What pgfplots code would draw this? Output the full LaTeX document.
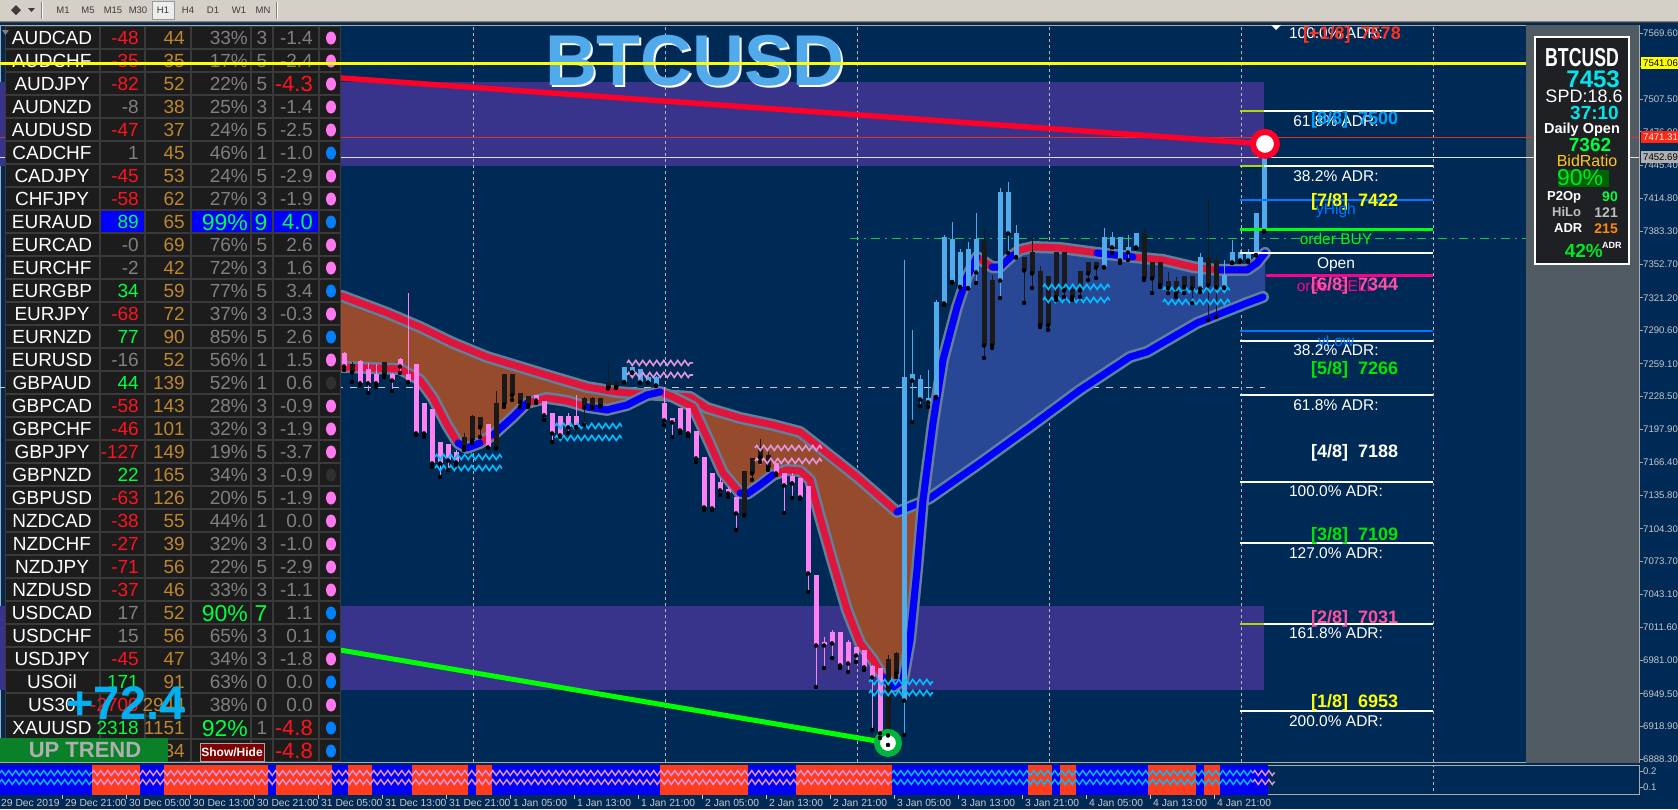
\documentclass[border=0pt]{standalone}
\usepackage{fontspec}
\setmainfont{Liberation Sans}
\usepackage{graphicx}
\usepackage{pgfplots}
\usepackage{pgfplotstable}
\pgfplotsset{compat=1.18}
\usetikzlibrary{decorations.pathmorphing}

\definecolor{navy}{RGB}{0,42,86}
\definecolor{tbgray}{RGB}{212,208,200}
\definecolor{tbtext}{RGB}{60,60,60}
\definecolor{futgray}{RGB}{80,91,99}
\definecolor{zone}{RGB}{56,52,140}
\definecolor{zonelime}{RGB}{170,220,0}
\definecolor{brownf}{RGB}{150,75,45}
\definecolor{bluef}{RGB}{40,72,150}
\definecolor{bandout}{RGB}{96,128,156}
\definecolor{bandred}{RGB}{225,20,60}
\definecolor{bandblue}{RGB}{0,0,255}
\definecolor{cpink}{RGB}{255,128,240}
\definecolor{cblack}{RGB}{26,26,26}
\definecolor{clight}{RGB}{80,170,235}
\definecolor{zzcyan}{RGB}{0,190,255}
\definecolor{zzpink}{RGB}{225,150,220}
\definecolor{trendred}{RGB}{255,0,40}
\definecolor{trendgreen}{RGB}{0,255,0}
\definecolor{circgreen}{RGB}{0,180,60}
\definecolor{axgray}{RGB}{170,170,170}
\definecolor{lblgray}{RGB}{200,200,200}
\definecolor{gridc}{RGB}{185,185,185}
\definecolor{askred}{RGB}{220,50,40}
\definecolor{bidwhite}{RGB}{225,225,225}
\definecolor{dashgreen}{RGB}{30,190,70}
\definecolor{subred}{RGB}{255,60,30}
\definecolor{subblue}{RGB}{0,0,245}
\definecolor{cellbg}{RGB}{28,28,28}
\definecolor{cellline}{RGB}{58,58,58}
\definecolor{tred}{RGB}{255,20,30}
\definecolor{tgray}{RGB}{128,128,128}
\definecolor{tgreen}{RGB}{0,255,64}
\definecolor{torange}{RGB}{190,135,45}
\definecolor{dotpink}{RGB}{255,120,240}
\definecolor{dotblue}{RGB}{0,128,255}
\definecolor{dotdark}{RGB}{48,48,48}
\definecolor{hlblue}{RGB}{0,0,255}
\definecolor{lvlblue}{RGB}{0,120,255}
\definecolor{lvlmag}{RGB}{255,0,140}
\definecolor{murred}{RGB}{255,50,30}
\definecolor{murblue}{RGB}{0,160,255}
\definecolor{murpink}{RGB}{255,80,160}
\definecolor{murgreen}{RGB}{0,230,0}
\definecolor{muryellow}{RGB}{255,255,0}
\definecolor{titleblue}{RGB}{80,170,235}
\definecolor{panelbg}{RGB}{30,32,36}
\definecolor{pcyan}{RGB}{0,230,240}
\definecolor{pyellow}{RGB}{255,200,30}
\definecolor{pgreen}{RGB}{0,230,40}
\definecolor{pdkgreen}{RGB}{0,100,0}
\definecolor{philo}{RGB}{190,190,190}
\definecolor{porange}{RGB}{255,140,0}
\definecolor{bigcyan}{RGB}{0,176,240}
\definecolor{trendbox}{RGB}{10,128,40}
\definecolor{trendtxt}{RGB}{175,175,175}
\definecolor{btnred}{RGB}{128,0,0}
\definecolor{yline}{RGB}{255,255,0}
\definecolor{boxred}{RGB}{255,40,20}
\definecolor{boxgray}{RGB}{175,175,175}

% candles: x o h l c
\pgfplotstableread{
x o h l c
344 7268.4 7270.3 7253.4 7257.1
360 7260.9 7262.8 7239.3 7241.2
368 7253.4 7260.0 7231.8 7241.2
376 7248.7 7259.0 7237.4 7241.2
392 7248.7 7250.6 7233.7 7244.0
400 7263.7 7264.7 7250.6 7257.1
408 7248.7 7325.6 7242.1 7242.1
416 7259.0 7259.0 7192.4 7194.3
424 7222.4 7222.4 7190.5 7194.3
432 7215.9 7215.9 7162.4 7166.1
440 7184.9 7184.9 7153.0 7166.1
448 7183.9 7183.9 7159.6 7168.9
456 7176.4 7178.3 7164.2 7167.1
488 7201.8 7201.8 7180.2 7181.1
536 7229.9 7229.9 7222.4 7225.2
544 7223.4 7223.4 7206.5 7211.2
552 7212.1 7212.1 7185.8 7194.3
560 7209.3 7209.3 7190.5 7192.4
568 7209.3 7213.0 7194.3 7199.9
576 7209.3 7229.9 7199.9 7199.9
664 7222.4 7237.4 7201.8 7206.5
672 7207.4 7207.4 7190.5 7204.6
680 7217.7 7217.7 7194.3 7197.1
688 7217.7 7217.7 7191.5 7194.3
696 7195.2 7195.2 7167.1 7170.8
704 7171.7 7171.7 7122.0 7124.8
712 7156.7 7156.7 7122.0 7123.9
720 7147.4 7152.0 7136.1 7140.8
728 7140.8 7143.6 7134.2 7138.0
736 7134.2 7134.2 7103.3 7119.2
776 7166.1 7166.1 7154.9 7156.7
784 7156.7 7156.7 7119.2 7145.5
792 7153.9 7156.7 7133.3 7147.4
800 7152.0 7152.0 7132.4 7134.2
808 7143.6 7143.6 7045.1 7062.9
816 7060.1 7060.1 6955.9 6995.3
824 6998.1 7002.8 6973.7 6995.3
832 7007.5 7009.4 6983.1 6997.2
840 7006.6 7006.6 6973.7 6976.6
848 6998.1 7000.0 6970.0 6978.4
856 6993.4 6993.4 6979.4 6985.9
864 6990.6 6990.6 6971.9 6974.7
872 6974.7 6976.6 6915.6 6965.3
880 6973.7 6973.7 6908.1 6912.8
}\pinkc

\pgfplotstableread{
x o h l c
352 7251.5 7260.9 7242.1 7258.1
384 7248.7 7260.9 7246.8 7260.0
464 7181.1 7194.3 7178.3 7190.5
472 7187.7 7211.2 7184.9 7209.3
480 7199.9 7209.3 7190.5 7208.4
496 7180.2 7233.7 7180.2 7221.5
504 7221.5 7248.7 7218.7 7248.7
512 7248.7 7248.7 7225.2 7229.9
520 7230.9 7231.8 7218.7 7223.4
528 7228.1 7228.1 7218.7 7220.5
584 7218.7 7228.1 7201.8 7227.1
592 7218.7 7228.1 7217.7 7227.1
600 7219.6 7226.2 7219.6 7226.2
608 7236.5 7260.9 7236.5 7242.1
616 7237.4 7243.1 7236.5 7242.1
744 7117.3 7157.7 7117.3 7157.7
752 7156.7 7170.8 7150.2 7170.8
760 7171.7 7188.6 7167.1 7181.1
768 7162.4 7176.4 7159.6 7173.6
888 6910.9 6985.9 6901.5 6981.3
896 6969.0 6988.8 6965.3 6987.8
984 7373.5 7386.6 7264.7 7276.8
992 7337.8 7342.5 7274.0 7276.8
1024 7359.4 7359.4 7316.3 7347.2
1032 7363.2 7381.9 7330.3 7344.4
1040 7345.4 7351.0 7293.7 7295.6
1048 7340.7 7340.7 7290.9 7295.6
1056 7363.2 7363.2 7319.1 7321.9
1064 7363.2 7363.2 7321.9 7328.5
1072 7328.5 7331.3 7319.1 7321.9
1080 7345.4 7345.4 7321.9 7328.5
1088 7354.7 7354.7 7337.8 7344.4
1096 7354.7 7354.7 7339.7 7350.0
1144 7381.0 7386.6 7337.8 7339.7
1152 7353.8 7353.8 7325.6 7339.7
1160 7353.8 7353.8 7331.3 7333.2
1168 7336.0 7345.4 7325.6 7330.3
1176 7336.0 7340.7 7321.9 7325.6
1184 7340.7 7340.7 7325.6 7331.3
1192 7340.7 7340.7 7316.3 7330.3
1208 7358.5 7412.9 7300.3 7333.2
1216 7356.6 7360.4 7303.1 7331.3
}\blackc

\pgfplotstableread{
x o h l c
624 7242.1 7256.2 7242.1 7255.3
632 7251.5 7256.2 7250.6 7255.3
640 7242.1 7253.4 7241.2 7253.4
648 7242.1 7247.8 7241.2 7246.8
656 7239.3 7247.8 7238.4 7246.8
904 6943.7 7356.6 6910.9 7246.8
912 7244.0 7290.9 7204.6 7248.7
920 7226.2 7248.7 7219.6 7244.9
928 7223.4 7253.4 7218.7 7227.1
936 7228.1 7319.1 7228.1 7316.3
944 7316.3 7380.1 7314.4 7377.3
952 7336.0 7392.3 7336.0 7375.4
960 7331.3 7366.9 7331.3 7363.2
968 7330.3 7373.5 7330.3 7366.0
976 7345.4 7400.7 7335.0 7375.4
1000 7337.8 7424.2 7320.9 7419.5
1008 7381.9 7429.8 7363.2 7419.5
1016 7359.4 7389.5 7359.4 7381.9
1104 7350.0 7386.6 7350.0 7377.3
1112 7368.8 7382.9 7363.2 7377.3
1120 7356.6 7377.3 7353.8 7377.3
1128 7364.1 7380.1 7356.6 7368.8
1136 7368.8 7381.0 7367.9 7381.0
1200 7330.3 7363.2 7326.6 7358.5
1224 7331.3 7356.6 7330.3 7342.5
1232 7354.7 7375.4 7353.8 7363.2
1240 7356.6 7366.0 7354.7 7363.2
1248 7356.6 7366.9 7354.7 7363.2
1256 7361.3 7400.7 7361.3 7400.7
1264 7383.8 7463.6 7383.8 7453.3
}\lightc

\pgfplotstableread{
x y
320 7325.6
342 7322.8
387 7306.9
420 7293.7
453 7278.7
487 7265.6
520 7256.2
553 7246.8
587 7237.4
617 7232.7
640 7231.0
690 7228.1
707 7217.7
740 7208.4
773 7201.8
800 7195.2
823 7178.3
857 7153.0
880 7134.2
897 7120.1
917 7127.7
930 7133.3
980 7166.1
1030 7199.9
1080 7234.6
1130 7265.6
1147 7270.3
1197 7297.5
1247 7316.3
1263 7321.9
}\slowband

\pgfplotstableread{
x y
320 7256.2
342 7256.2
400 7254.3
420 7244.0
433 7227.1
447 7201.8
458 7184.9
467 7180.2
480 7184.9
493 7192.4
513 7209.3
527 7222.4
547 7227.1
567 7224.3
587 7218.7
607 7215.9
627 7220.5
647 7229.9
660 7232.7
673 7228.1
693 7218.7
707 7190.5
723 7156.7
740 7138.0
747 7137.0
760 7145.5
773 7154.9
787 7159.6
800 7158.6
810 7150.2
820 7115.4
833 7072.3
847 7028.2
860 6997.2
873 6981.3
883 6965.3
893 6955.9
903 6962.5
910 7000.0
917 7065.7
923 7131.4
933 7203.7
943 7262.8
957 7312.5
967 7340.7
977 7359.4
992 7350.0
1000 7350.0
1013 7361.3
1020 7366.0
1033 7368.8
1060 7367.9
1097 7363.2
1133 7359.4
1163 7356.6
1193 7350.0
1217 7347.2
1247 7347.2
1257 7353.8
1265 7363.2
}\fastband

\pgfplotsset{
 wick/.style={only marks, mark=none, error bars/y dir=plus, error bars/y explicit, error bars/error mark=none, error bars/error bar style={draw=#1, line width=1pt}},
 body/.style={only marks, mark=none, error bars/y dir=plus, error bars/y explicit, error bars/error mark=none, error bars/error bar style={draw=#1, line width=5pt}},
 zz/.style={#1, line width=1.6pt, decorate, decoration={zigzag, segment length=7pt, amplitude=2.5pt}},
}

\newcommand{\TX}[5][]{\node[inner sep=0pt, anchor=base, #1] at (#2, {#3+0.358*#4}) {\fontsize{#4}{#4}\selectfont #5};}
\newcommand{\trow}[9]{%
 \pgfmathsetmacro{\yc}{38+23*#1}%
 \TX{52}{\yc}{19}{\color{white}#2}%
 \TX[anchor=base east]{139}{\yc}{19}{\color{#3}#4}%
 \TX[anchor=base east]{185}{\yc}{19}{\color{torange}#5}%
 \TX[anchor=base east]{248}{\yc}{19}{\color{tgray}#6}%
 \TX{262}{\yc}{19}{\color{tgray}#7}%
 \TX[anchor=base east]{313}{\yc}{19}{\color{tgray}#8}%
 \fill[#9] (331,\yc) ellipse [x radius=5pt, y radius=6.5pt];%
}

\begin{document}
\begin{tikzpicture}
\useasboundingbox (0pt,0pt) rectangle (1678pt,-809pt);
\clip (0pt,0pt) rectangle (1678pt,-809pt);
\fill[navy] (0pt,0pt) rectangle (1678pt,-809pt);

% ================= MAIN PRICE WINDOW =================
\begin{axis}[
 at={(0pt,-762pt)}, anchor=south west, scale only axis,
 width=1639pt, height=737pt,
 xmin=0, xmax=1639, ymin=6885.5, ymax=7577.1,
 axis line style={draw=axgray, line width=1pt},
 xtick=\empty,
 ytick={6888.3,6918.9,6949.5,6981,7011.6,7043.1,7073.7,7104.3,7135.8,7166.4,7197.9,7228.5,7259.1,7290.6,7321.2,7352.7,7383.3,7414.8,7445.4,7476.9,7507.5,7538.1,7569.6},
 yticklabels={6888.30,6918.90,6949.50,6981.00,7011.60,7043.10,7073.70,7104.30,7135.80,7166.40,7197.90,7228.50,7259.10,7290.60,7321.20,7352.70,7383.30,7414.80,7445.40,7476.90,7507.50,7538.10,7569.60},
 ytick pos=right, yticklabel pos=right,
 tick align=outside, major tick length=3.5pt,
 tick style={draw=axgray, line width=0.8pt},
 yticklabel style={font=\fontsize{9.6}{9.6}\selectfont, text=lblgray, inner sep=0pt, xshift=0.5pt},
]
% future (shift) area
\addplot[fill=futgray, draw=none] coordinates {(1526,6880)(1526,7580)(1639,7580)(1639,6880)} -- cycle;
% supply / demand zones
\addplot[fill=zone, draw=none] coordinates {(0,7444.8)(0,7523.7)(1264,7523.7)(1264,7444.8)} -- cycle;
\addplot[fill=zone, draw=none] coordinates {(0,6953.1)(0,7031.9)(1264,7031.9)(1264,6953.1)} -- cycle;
% vertical dashed grid
\pgfplotsinvokeforeach{473,665,857,1049,1241,1433}{
 \addplot[gridc, dash pattern=on 3pt off 3pt, line width=0.8pt] coordinates {(#1,6880)(#1,7580)};
}
% horizontal lines
\addplot[lblgray, dash pattern=on 7pt off 7pt, line width=1pt] coordinates {(0,7237.4)(1265,7237.4)};
\addplot[dashgreen, dash pattern=on 9pt off 5pt on 2pt off 5pt, line width=1pt] coordinates {(850,7376.3)(1526,7376.3)};
\addplot[askred, line width=1pt] coordinates {(0,7471.31)(1639,7471.31)};
\addplot[bidwhite, line width=1pt] coordinates {(0,7452.69)(1639,7452.69)};
% fills between the two averages
\addplot[fill=brownf, draw=none] coordinates {(320,7325.6)(342,7322.8)(387,7306.9)(420,7293.7)(453,7278.7)(487,7265.6)(520,7256.2)(553,7246.8)(587,7237.4)(617,7232.7)(640,7231.0)(690,7228.1)(707,7217.7)(740,7208.4)(773,7201.8)(800,7195.2)(823,7178.3)(857,7153.0)(880,7134.2)(897,7120.1)(917,7127.7)(922,7128.5)(917,7065.7)(910,7000.0)(903,6962.5)(893,6955.9)(883,6965.3)(873,6981.3)(860,6997.2)(847,7028.2)(833,7072.3)(820,7115.4)(810,7150.2)(800,7158.6)(787,7159.6)(773,7154.9)(760,7145.5)(747,7137.0)(740,7138.0)(723,7156.7)(707,7190.5)(693,7218.7)(673,7228.1)(660,7232.7)(647,7229.9)(627,7220.5)(607,7215.9)(587,7218.7)(567,7224.3)(547,7227.1)(527,7222.4)(513,7209.3)(493,7192.4)(480,7184.9)(467,7180.2)(458,7184.9)(447,7201.8)(433,7227.1)(420,7244.0)(400,7254.3)(342,7256.2)(320,7256.2)} -- cycle;
\addplot[fill=bluef, draw=none] coordinates {(922,7128.5)(923,7131.4)(933,7203.7)(943,7262.8)(957,7312.5)(967,7340.7)(977,7359.4)(992,7350.0)(1000,7350.0)(1013,7361.3)(1020,7366.0)(1033,7368.8)(1060,7367.9)(1097,7363.2)(1133,7359.4)(1163,7356.6)(1193,7350.0)(1217,7347.2)(1247,7347.2)(1257,7353.8)(1265,7363.2)(1265,7321.9)(1263,7321.9)(1247,7316.3)(1197,7297.5)(1147,7270.3)(1130,7265.6)(1080,7234.6)(1030,7199.9)(980,7166.1)(930,7133.3)} -- cycle;
% slow average band
\addplot[bandout, line width=12pt, line join=round, line cap=round] table {\slowband};
\addplot[bandred, line width=7pt, line join=round, line cap=round, restrict x to domain=320:897] table {\slowband};
\addplot[bandblue, line width=7pt, line join=round, line cap=round, restrict x to domain=897:1263] table {\slowband};
% fast average band
\addplot[bandout, line width=12pt, line join=round, line cap=round] table {\fastband};
\addplot[bandred, line width=7pt, line join=round, line cap=round] table {\fastband};
\pgfplotsinvokeforeach{458:480, 493:527, 587:660, 740:773, 883:977, 992:1013, 1097:1133, 1217:1265}{
 \addplot[bandblue, line width=7pt, line join=round, line cap=round, restrict x to domain=#1] table {\fastband};
}
% trend lines
\addplot[trendred, line width=5.5pt] coordinates {(341,7527.4)(1265,7465.5)};
\addplot[trendgreen, line width=5pt] coordinates {(340,6990.6)(888,6903.4)};
\addplot[only marks, mark=*, mark size=12pt, mark options={draw=trendred, fill=white, line width=6pt}] coordinates {(1265,7465.5)};
\addplot[only marks, mark=*, mark size=11pt, mark options={draw=circgreen, fill=white, line width=6pt}] coordinates {(888,6903.4)};
% candles
\addplot[wick=cpink] table[x=x, y=l, y error plus expr={\thisrow{h}-\thisrow{l}}] {\pinkc};
\addplot[body=cpink] table[x=x, y expr={min(\thisrow{o},\thisrow{c})-0.45}, y error plus expr={abs(\thisrow{c}-\thisrow{o})+0.9}] {\pinkc};
\addplot[wick=cblack] table[x=x, y=l, y error plus expr={\thisrow{h}-\thisrow{l}}] {\blackc};
\addplot[body=cblack] table[x=x, y expr={min(\thisrow{o},\thisrow{c})-0.45}, y error plus expr={abs(\thisrow{c}-\thisrow{o})+0.9}] {\blackc};
\addplot[wick=clight] table[x=x, y=l, y error plus expr={\thisrow{h}-\thisrow{l}}] {\lightc};
\addplot[body=clight] table[x=x, y expr={min(\thisrow{o},\thisrow{c})-0.45}, y error plus expr={abs(\thisrow{c}-\thisrow{o})+0.9}] {\lightc};
% zigzag signal markers
\addplot[zz=zzcyan] coordinates {(435,7171.7)(502,7171.7)};
\addplot[zz=zzcyan] coordinates {(435,7161.4)(502,7161.4)};
\addplot[zz=zzcyan] coordinates {(555,7200.8)(622,7200.8)};
\addplot[zz=zzcyan] coordinates {(555,7189.6)(622,7189.6)};
\addplot[zz=zzpink] coordinates {(627,7260.0)(693,7260.0)};
\addplot[zz=zzpink] coordinates {(627,7248.7)(693,7248.7)};
\addplot[zz=zzpink] coordinates {(755,7180.2)(822,7180.2)};
\addplot[zz=zzpink] coordinates {(755,7168.0)(822,7168.0)};
\addplot[zz=zzcyan] coordinates {(869,6960.6)(933,6960.6)};
\addplot[zz=zzcyan] coordinates {(869,6950.3)(933,6950.3)};
\addplot[zz=zzcyan] coordinates {(1043,7331.3)(1110,7331.3)};
\addplot[zz=zzcyan] coordinates {(1043,7319.1)(1110,7319.1)};
\addplot[zz=zzcyan] coordinates {(1163,7328.5)(1230,7328.5)};
\addplot[zz=zzcyan] coordinates {(1163,7317.2)(1230,7317.2)};
% level lines on the right
\pgfplotsinvokeforeach{7363.2,7280.6,7229.9,7148.3,7091.1,7015.0,6933.4}{
 \addplot[white, line width=2pt] coordinates {(1240,#1)(1433,#1)};
}
\addplot[white, line width=2pt] coordinates {(1264,7496.4)(1433,7496.4)};
\addplot[white, line width=2pt] coordinates {(1264,7444.8)(1433,7444.8)};
\addplot[zonelime, line width=2pt] coordinates {(1240,7496.4)(1264,7496.4)};
\addplot[zonelime, line width=2pt] coordinates {(1240,7444.8)(1264,7444.8)};
\addplot[zonelime, line width=2pt] coordinates {(1240,7015.0)(1264,7015.0)};
\addplot[lvlblue, line width=2pt] coordinates {(1240,7412.9)(1433,7412.9)};
\addplot[lvlblue, line width=2pt] coordinates {(1240,7290.0)(1433,7290.0)};
\addplot[trendgreen, line width=3pt] coordinates {(1240,7384.8)(1433,7384.8)};
\addplot[lvlmag, line width=3pt] coordinates {(1266,7341.6)(1433,7341.6)};
\end{axis}

% ================= INDICATOR SUB-WINDOW =================
\begin{axis}[
 at={(0pt,-794pt)}, anchor=south west, scale only axis,
 width=1639pt, height=29pt,
 xmin=0, xmax=1639, ymin=0.05625, ymax=0.2375,
 axis line style={draw=axgray, line width=1pt},
 xtick=\empty, ytick={0.1,0.2}, yticklabels={0.1,0.2},
 ytick pos=right, yticklabel pos=right,
 tick align=outside, major tick length=3.5pt,
 tick style={draw=axgray, line width=0.8pt},
 yticklabel style={font=\fontsize{9.6}{9.6}\selectfont, text=lblgray, inner sep=0pt, xshift=0.5pt},
]
\pgfplotsinvokeforeach{473,665,857,1049,1241,1433}{
 \addplot[gridc, dash pattern=on 3pt off 3pt, line width=0.8pt] coordinates {(#1,0)(#1,1)};
}
\addplot[fill=subblue, draw=none] coordinates {(0,0)(0,1)(1268,1)(1268,0)} -- cycle;
\addplot[fill=subred, draw=none] coordinates {(92,0)(92,1)(140,1)(140,0)} -- cycle;
\addplot[fill=subred, draw=none] coordinates {(164,0)(164,1)(268,1)(268,0)} -- cycle;
\addplot[fill=subred, draw=none] coordinates {(276,0)(276,1)(332,1)(332,0)} -- cycle;
\addplot[fill=subred, draw=none] coordinates {(348,0)(348,1)(372,1)(372,0)} -- cycle;
\addplot[fill=subred, draw=none] coordinates {(412,0)(412,1)(468,1)(468,0)} -- cycle;
\addplot[fill=subred, draw=none] coordinates {(476,0)(476,1)(492,1)(492,0)} -- cycle;
\addplot[fill=subred, draw=none] coordinates {(660,0)(660,1)(748,1)(748,0)} -- cycle;
\addplot[fill=subred, draw=none] coordinates {(796,0)(796,1)(892,1)(892,0)} -- cycle;
\addplot[fill=subred, draw=none] coordinates {(1028,0)(1028,1)(1052,1)(1052,0)} -- cycle;
\addplot[fill=subred, draw=none] coordinates {(1060,0)(1060,1)(1076,1)(1076,0)} -- cycle;
\addplot[fill=subred, draw=none] coordinates {(1148,0)(1148,1)(1196,1)(1196,0)} -- cycle;
\addplot[fill=subred, draw=none] coordinates {(1204,0)(1204,1)(1220,1)(1220,0)} -- cycle;
\addplot[zz=zzcyan, line width=1.4pt] coordinates {(0,0.1875)(92,0.1875)};
\addplot[zz=zzcyan, line width=1.4pt] coordinates {(0,0.1313)(92,0.1313)};
\addplot[zz=zzpink, line width=1.4pt] coordinates {(92,0.1875)(892,0.1875)};
\addplot[zz=zzpink, line width=1.4pt] coordinates {(92,0.1313)(892,0.1313)};
\addplot[zz=zzcyan, line width=1.4pt] coordinates {(892,0.1875)(1253,0.1875)};
\addplot[zz=zzcyan, line width=1.4pt] coordinates {(892,0.1313)(1253,0.1313)};
\addplot[zz=zzpink, line width=1.4pt] coordinates {(1253,0.1875)(1275,0.1875)};
\addplot[zz=zzpink, line width=1.4pt] coordinates {(1253,0.1313)(1275,0.1313)};
\end{axis}

% ================= OVERLAYS =================
\begin{scope}[x=1pt,y=-1pt]
% toolbar
\fill[tbgray] (0,0) rectangle (1678,21);
\draw[gray] (0,21.5) -- (1678,21.5);
\draw[black!75] (0,22.5) -- (1678,22.5);
\fill[white!93!black] (152,1) rectangle (174,19);
\draw[gray!80] (152,1) rectangle (174,19);
\foreach \xx/\lab in {63/M1,88/M5,113/M15,138/M30,163/H1,188/H4,213/D1,239/W1,263/MN}{
 \TX{\xx}{10}{9.5}{\color{tbtext}\lab}
}
\fill[tbtext] (16,5) -- (21,10) -- (16,15) -- (11,10) -- cycle;
\fill[tbtext] (28,8) -- (35,8) -- (31.5,12) -- cycle;
\draw[gray] (41,2) -- (41,19); \draw[white] (42,2) -- (42,19);
\draw[gray] (276,2) -- (276,19); \draw[white] (277,2) -- (277,19);

% title
\TX{697}{62}{72}{\bfseries\color{white}BTCUSD}
\TX{695}{60}{72}{\bfseries\color{titleblue}BTCUSD}
\fill[white] (1271,25) -- (1281,25) -- (1276,30) -- cycle;

% level labels
\TX{1336}{33}{15.5}{\color{white}100.0\% ADR:}
\TX[anchor=base west]{1303}{33}{18}{\bfseries\color{murred}[+1/8]\ \ 7578}
\TX{1336}{121}{15.5}{\color{white}61.8\% ADR:}
\TX[anchor=base west]{1311}{118}{18}{\bfseries\color{murblue}[8/8]\ \ 7500}
\TX{1336}{176}{15.5}{\color{white}38.2\% ADR:}
\TX[anchor=base west]{1311}{200}{18}{\bfseries\color{muryellow}[7/8]\ \ 7422}
\TX{1336}{209}{15.5}{\color{lvlblue}yHigh}
\TX{1336}{239}{15.5}{\color{trendgreen}order BUY}
\TX{1336}{263}{15.5}{\color{white}Open}
\TX{1336}{286}{15.5}{\color{lvlmag}order SELL}
\TX[anchor=base west]{1311}{284}{18}{\bfseries\color{murpink}[6/8]\ \ 7344}
\TX{1336}{341}{15.5}{\color{lvlblue}yLow}
\TX{1336}{350}{15.5}{\color{white}38.2\% ADR:}
\TX[anchor=base west]{1311}{368}{18}{\bfseries\color{murgreen}[5/8]\ \ 7266}
\TX{1336}{405}{15.5}{\color{white}61.8\% ADR:}
\TX[anchor=base west]{1311}{451}{18}{\bfseries\color{white}[4/8]\ \ 7188}
\TX{1336}{491}{15.5}{\color{white}100.0\% ADR:}
\TX[anchor=base west]{1311}{534}{18}{\bfseries\color{murgreen}[3/8]\ \ 7109}
\TX{1336}{553}{15.5}{\color{white}127.0\% ADR:}
\TX[anchor=base west]{1311}{617}{18}{\bfseries\color{murpink}[2/8]\ \ 7031}
\TX{1336}{633}{15.5}{\color{white}161.8\% ADR:}
\TX[anchor=base west]{1311}{701}{18}{\bfseries\color{muryellow}[1/8]\ \ 6953}
\TX{1336}{721}{15.5}{\color{white}200.0\% ADR:}

% info panel
\fill[panelbg] (1535,37) rectangle (1629,264);
\draw[white, line width=1.5pt] (1535,37) rectangle (1629,264);
\TX{1582}{57}{26}{\bfseries\color{white}\scalebox{0.68}[1]{BTCUSD}}
\TX[anchor=base east]{1620}{79}{24}{\bfseries\color{pcyan}7453}
\TX{1584}{96}{18}{\color{white}SPD:18.6}
\TX[anchor=base east]{1619}{113}{19}{\bfseries\color{pcyan}37:10}
\TX{1582}{128}{14.5}{\bfseries\color{white}Daily Open}
\TX{1590}{145}{19}{\bfseries\color{tgreen}7362}
\TX{1587}{161}{16}{\color{pyellow}BidRatio}
\fill[pdkgreen] (1558,170) rectangle (1609,187);
\TX{1580}{177}{23}{\color{pgreen}90\%}
\TX[anchor=base west]{1547}{196}{13}{\bfseries\color{white}P2Op}
\TX[anchor=base east]{1618}{196}{14}{\bfseries\color{tgreen}90}
\TX[anchor=base west]{1552}{212}{13}{\bfseries\color{philo}HiLo}
\TX[anchor=base east]{1618}{212}{14}{\bfseries\color{philo}121}
\TX[anchor=base west]{1554}{228}{13}{\bfseries\color{white}ADR}
\TX[anchor=base east]{1618}{228}{14}{\bfseries\color{porange}215}
\TX[anchor=base east]{1603}{251}{19}{\bfseries\color{pgreen}42\%}
\TX[anchor=base west]{1602}{245}{9}{\bfseries\color{white}ADR}

% price-axis boxes
\fill[yline] (1641,57) rectangle (1678,69);
\TX[anchor=base west]{1643}{63}{9.6}{\color{black}7541.06}
\fill[boxred] (1641,131) rectangle (1678,143);
\TX[anchor=base west]{1643}{137}{9.6}{\color{white}7471.31}
\fill[boxgray] (1641,151) rectangle (1678,163);
\TX[anchor=base west]{1643}{157}{9.6}{\color{black}7452.69}

% date labels
\foreach \j/\lab in {0/29 Dec 2019,1/29 Dec 21:00,2/30 Dec 05:00,3/30 Dec 13:00,4/30 Dec 21:00,5/31 Dec 05:00,6/31 Dec 13:00,7/31 Dec 21:00,8/1 Jan 05:00,9/1 Jan 13:00,10/1 Jan 21:00,11/2 Jan 05:00,12/2 Jan 13:00,13/2 Jan 21:00,14/3 Jan 05:00,15/3 Jan 13:00,16/3 Jan 21:00,17/4 Jan 05:00,18/4 Jan 13:00,19/4 Jan 21:00}{
 \pgfmathsetmacro{\xt}{-2+64*\j}
 \draw[lblgray] (\xt,795) -- (\xt,799);
 \TX[anchor=base west]{\xt+3}{803}{10.3}{\color{lblgray}\lab}
}

% ---------- currency table ----------
\fill[cellline] (5,26) rectangle (341,762);
\foreach \i in {0,...,31}{
 \pgfmathsetmacro{\ya}{27+23*\i}
 \pgfmathsetmacro{\yb}{\ya+21}
 \foreach \xa/\xb in {6/99,101/144,146/190,192/250,252/272,274/318,320/340}{
  \fill[cellbg] (\xa,\ya) rectangle (\xb,\yb);
 }
}
\fill[hlblue] (101,211) rectangle (144,232);
\fill[hlblue] (192,211) rectangle (250,232);
\fill[hlblue] (252,211) rectangle (272,232);
\fill[hlblue] (274,211) rectangle (318,232);
\fill[gray] (2,30) -- (9,30) -- (5.5,35) -- cycle;

\trow{0}{AUDCAD}{tred}{-48}{44}{33\%}{3}{-1.4}{dotpink}
\trow{1}{AUDCHF}{tred}{-35}{35}{17\%}{5}{-2.4}{dotpink}
\trow{2}{AUDJPY}{tred}{-82}{52}{22\%}{5}{}{dotpink}
\TX[anchor=base east]{313}{84}{22}{\color{tred}-4.3}
\trow{3}{AUDNZD}{tgray}{-8}{38}{25\%}{3}{-1.4}{dotpink}
\trow{4}{AUDUSD}{tred}{-47}{37}{24\%}{5}{-2.5}{dotpink}
\trow{5}{CADCHF}{tgray}{1}{45}{46\%}{1}{-1.0}{dotblue}
\trow{6}{CADJPY}{tred}{-45}{53}{24\%}{5}{-2.9}{dotpink}
\trow{7}{CHFJPY}{tred}{-58}{62}{27\%}{3}{-1.9}{dotpink}
\trow{8}{EURAUD}{tgreen}{89}{65}{}{}{}{dotblue}
\TX[anchor=base east]{248}{222}{23}{\color{tgreen}99\%}
\TX{261}{222}{23}{\color{tgreen}9}
\TX[anchor=base east]{313}{222}{22}{\color{tgreen}4.0}
\trow{9}{EURCAD}{tgray}{-0}{69}{76\%}{5}{2.6}{dotpink}
\trow{10}{EURCHF}{tgray}{-2}{42}{72\%}{3}{1.6}{dotpink}
\trow{11}{EURGBP}{tgreen}{34}{59}{77\%}{5}{3.4}{dotblue}
\trow{12}{EURJPY}{tred}{-68}{72}{37\%}{3}{-0.3}{dotpink}
\trow{13}{EURNZD}{tgreen}{77}{90}{85\%}{5}{2.6}{dotblue}
\trow{14}{EURUSD}{tgray}{-16}{52}{56\%}{1}{1.5}{dotpink}
\trow{15}{GBPAUD}{tgreen}{44}{139}{52\%}{1}{0.6}{dotdark}
\trow{16}{GBPCAD}{tred}{-58}{143}{28\%}{3}{-0.9}{dotpink}
\trow{17}{GBPCHF}{tred}{-46}{101}{32\%}{3}{-1.9}{dotpink}
\trow{18}{GBPJPY}{tred}{-127}{149}{19\%}{5}{-3.7}{dotpink}
\trow{19}{GBPNZD}{tgreen}{22}{165}{34\%}{3}{-0.9}{dotdark}
\trow{20}{GBPUSD}{tred}{-63}{126}{20\%}{5}{-1.9}{dotpink}
\trow{21}{NZDCAD}{tred}{-38}{55}{44\%}{1}{0.0}{dotpink}
\trow{22}{NZDCHF}{tred}{-27}{39}{32\%}{3}{-1.0}{dotpink}
\trow{23}{NZDJPY}{tred}{-71}{56}{22\%}{5}{-2.9}{dotpink}
\trow{24}{NZDUSD}{tred}{-37}{46}{33\%}{3}{-1.1}{dotpink}
\trow{25}{USDCAD}{tgray}{17}{52}{}{}{1.1}{dotblue}
\TX[anchor=base east]{248}{613}{23}{\color{tgreen}90\%}
\TX{261}{613}{23}{\color{tgreen}7}
\trow{26}{USDCHF}{tgray}{15}{56}{65\%}{3}{0.1}{dotblue}
\trow{27}{USDJPY}{tred}{-45}{47}{34\%}{3}{-1.8}{dotpink}
\trow{28}{USOil}{tgreen}{171}{91}{63\%}{0}{0.0}{dotblue}
\trow{29}{US30}{tred}{-2700}{2944}{38\%}{0}{0.0}{dotpink}
\trow{30}{XAUUSD}{tgreen}{2318}{1151}{}{1}{}{dotblue}
\TX[anchor=base east]{248}{728}{23}{\color{tgreen}92\%}
\TX[anchor=base east]{313}{728}{22}{\color{tred}-4.8}
\trow{31}{}{tgray}{}{134}{}{}{}{dotblue}
\TX[anchor=base east]{313}{751}{22}{\color{tred}-4.8}
\end{scope}

% yellow level line drawn over the table
\begin{axis}[
 at={(0pt,-762pt)}, anchor=south west, scale only axis,
 width=1639pt, height=737pt,
 xmin=0, xmax=1639, ymin=6885.5, ymax=7577.1, hide axis,
]
\addplot[yline, line width=3pt] coordinates {(0,7541.06)(1526,7541.06)};
\end{axis}

\begin{scope}[x=1pt,y=-1pt]
\TX{126}{703}{47}{\bfseries\color{bigcyan}+72.4}
\fill[trendbox] (0,738) rectangle (168,762);
\TX{85}{750}{22}{\bfseries\color{trendtxt}UP TREND}
\fill[btnred] (200,743) rectangle (264,761);
\draw[gray!70] (200,743) rectangle (264,761);
\TX{232}{752}{12}{\bfseries\color{white}Show/Hide}
\end{scope}
\end{tikzpicture}
\end{document}
